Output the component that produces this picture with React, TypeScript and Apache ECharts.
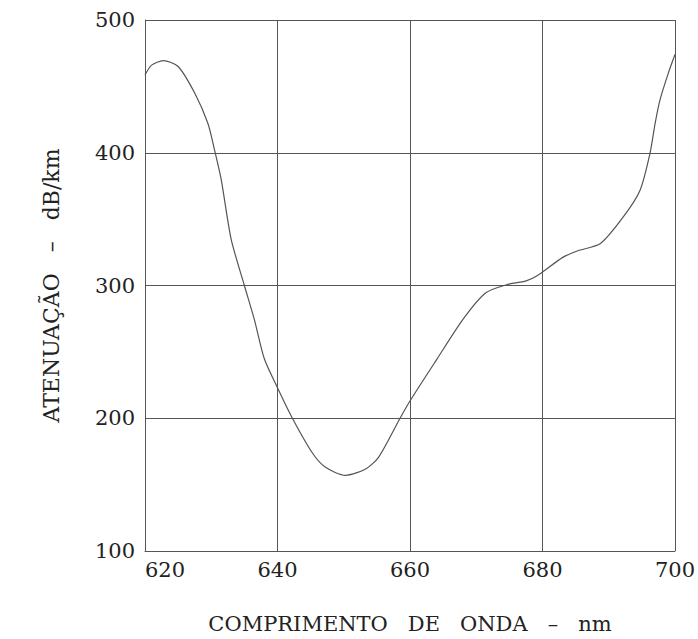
import React, { useEffect, useRef } from "react";
import * as echarts from "echarts";

const wavelength = [
  620, 621, 622.75, 625, 627.5, 629.5, 630.5, 631.5, 633, 635, 636.5, 638,
  640, 642.25, 645.25, 647.25, 650.25, 653.25, 655.25, 658.5, 660, 664,
  668, 671.45, 674.9, 677.45, 679.25, 683, 685.25, 688.75, 692.25, 694.75,
  696.25, 697, 697.75, 699, 700,
];
const attenuation = [
  458.6, 466, 469.4, 465, 445, 422, 402, 380, 335, 300, 274.5, 245,
  223, 200, 174, 163, 157, 161.6, 170.5, 200, 213, 244,
  274.5, 294.5, 301, 303.3, 307.5, 321, 326, 331.6, 352, 372,
  400, 422, 440, 460, 474,
];
const xTicks = [620, 640, 660, 680, 700];
const yTicks = [100, 200, 300, 400, 500];

const FONT = "DejaVu Serif";

export default function App() {
  const ref = useRef<HTMLDivElement>(null);
  useEffect(() => {
    document.body.style.margin = "0";
    const chart = echarts.init(ref.current!, null, { renderer: "svg" });
    const gridColor = "#555";
    chart.setOption({
      animation: false,
      backgroundColor: "#fff",
      grid: { left: 145, top: 20, right: 20, bottom: 87 },
      xAxis: {
        type: "value",
        min: xTicks[0],
        max: xTicks[xTicks.length - 1],
        interval: 20,
        name: "COMPRIMENTO   DE   ONDA   –   nm",
        nameLocation: "middle",
        nameGap: 62,
        nameTextStyle: { fontFamily: FONT, fontSize: 21, color: "#222" },
        axisLine: { show: true, lineStyle: { color: gridColor, width: 1 } },
        axisTick: { show: false },
        axisLabel: {
          fontFamily: FONT,
          fontSize: 21,
          color: "#222",
          margin: 8,
          alignMinLabel: "left",
        },
        splitLine: { show: true, lineStyle: { color: gridColor, width: 1 } },
      },
      yAxis: {
        type: "value",
        min: yTicks[0],
        max: yTicks[yTicks.length - 1],
        interval: 100,
        name: "ATENUAÇÃO   –   dB/km",
        nameLocation: "middle",
        nameGap: 83,
        nameTextStyle: { fontFamily: FONT, fontSize: 22, color: "#222" },
        axisLine: { show: true, lineStyle: { color: gridColor, width: 1 } },
        axisTick: { show: false },
        axisLabel: { fontFamily: FONT, fontSize: 21, color: "#222", margin: 10 },
        splitLine: { show: true, lineStyle: { color: gridColor, width: 1 } },
      },
      series: [
        {
          type: "line",
          data: wavelength.map((w, i) => [w, attenuation[i]]),
          smooth: 0.25,
          showSymbol: false,
          symbol: "none",
          lineStyle: { color: "#555", width: 1.2 },
        },
      ],
    });
    return () => chart.dispose();
  }, []);
  return <div ref={ref} style={{ width: 698, height: 639 }} />;
}
